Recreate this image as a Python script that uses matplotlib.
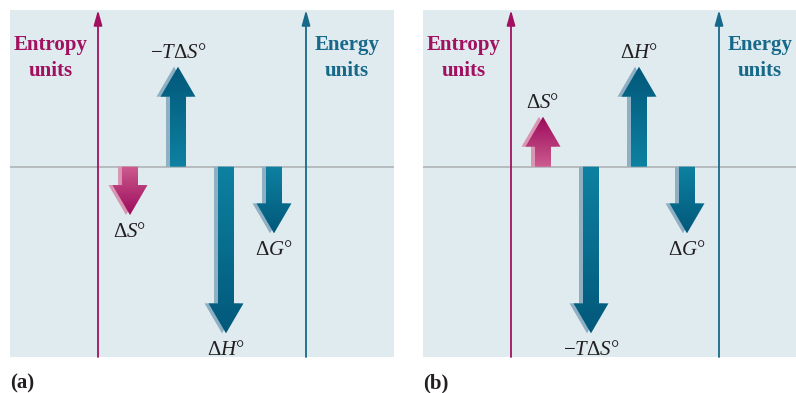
import numpy as np
import matplotlib
matplotlib.use("Agg")
import matplotlib.pyplot as plt
from matplotlib.patches import Polygon
from matplotlib.colors import LinearSegmentedColormap

plt.rcParams['font.family'] = ['Liberation Serif', 'DejaVu Serif']
plt.rcParams['mathtext.fontset'] = 'custom'
plt.rcParams['mathtext.rm'] = 'Liberation Serif'
plt.rcParams['mathtext.it'] = 'Liberation Serif:italic'

# quantities drawn in each panel (arbitrary units, 0 = baseline)
panel_names = ['(a)', '(b)']
arrow_labels = ['$\\Delta S$°', '−$T\\Delta S$°', '$\\Delta H$°', '$\\Delta G$°']
arrow_kind = ['entropy', 'energy', 'energy', 'energy']
values_a = [-1.45, 3.0, -5.0, -2.0]
values_b = [1.5, -5.0, 3.0, -2.0]

# colours
BG = '#e0ebf0'
MAGENTA = '#a1115f'
TEAL = '#17698a'
TEXT = '#231f20'
grad = {
    'entropy': LinearSegmentedColormap.from_list('ent', ['#cc5c8f', '#9b0a5b']),
    'energy': LinearSegmentedColormap.from_list('eng', ['#0e81a1', '#02587a']),
}
shadow = {'entropy': '#d896b4', 'energy': '#8eb0c2'}

W, H = 796, 393
PX = 33.33          # pixels per unit
PANEL_W, PANEL_H = 384, 347
Y_TOP = 156.7 / PX
Y_BOT = -190.3 / PX
slots = [120, 168, 216, 264]     # arrow centres, px from panel left
SHAFT, HEAD, HEAD_LEN = 8, 17.5, 30 / PX


def arrow_poly(cx, v):
    d = np.sign(v)
    yb = v - d * HEAD_LEN
    return np.array([[cx - SHAFT, 0], [cx - SHAFT, yb], [cx - HEAD, yb], [cx, v],
                     [cx + HEAD, yb], [cx + SHAFT, yb], [cx + SHAFT, 0]])


def draw_arrow(ax, cx, v, kind, label):
    pts = arrow_poly(cx, v)
    sh = pts.copy()
    sh[:, 0] -= 4
    ax.add_patch(Polygon(sh, closed=True, facecolor=shadow[kind],
                         edgecolor='none', zorder=3))
    clip = Polygon(pts, closed=True, facecolor='none', edgecolor='none',
                   transform=ax.transData)
    ax.add_patch(clip)
    t = np.linspace(0, 1, 256).reshape(-1, 1)
    im = ax.imshow(t, cmap=grad[kind], origin='lower', aspect='auto',
                   extent=(cx - HEAD - 1, cx + HEAD + 1, 0, v), zorder=4,
                   interpolation='bilinear')
    im.set_clip_path(clip)
    if v > 0:
        ax.text(cx, v + 4 / PX, label, ha='center', va='bottom', fontsize=15,
                color=TEXT, zorder=5)
    else:
        ax.text(cx, v - 8 / PX, label, ha='center', va='top', fontsize=15,
                color=TEXT, zorder=5)


fig = plt.figure(figsize=(W / 100, H / 100), dpi=100)
fig.patch.set_facecolor('white')

for name, left, vals in zip(panel_names, [10, 423], [values_a, values_b]):
    ax = fig.add_axes([left / W, (H - 357) / H, PANEL_W / W, PANEL_H / H])
    ax.set_facecolor(BG)
    for s in ax.spines.values():
        s.set_visible(False)
    ax.set_xticks([])
    ax.set_yticks([])

    ax.axhline(0, color='#b3b7ba', lw=1.3, zorder=1)

    # unit axes
    ax.annotate('', xy=(88, Y_TOP), xytext=(88, Y_BOT),
                arrowprops=dict(arrowstyle='-|>,head_length=0.9,head_width=0.25',
                                color=MAGENTA, lw=1.3, shrinkA=0, shrinkB=0),
                zorder=2)
    ax.annotate('', xy=(296, Y_TOP), xytext=(296, Y_BOT),
                arrowprops=dict(arrowstyle='-|>,head_length=0.9,head_width=0.25',
                                color=TEAL, lw=1.3, shrinkA=0, shrinkB=0),
                zorder=2)
    ax.text(41, (166.7 - 58) / PX, 'Entropy\nunits', ha='center', va='center',
            fontsize=15, fontweight='bold', color=MAGENTA, linespacing=1.4)
    ax.text(337, (166.7 - 58) / PX, 'Energy\nunits', ha='center', va='center',
            fontsize=15, fontweight='bold', color=TEAL, linespacing=1.4)

    for cx, v, kind, lab in zip(slots, vals, arrow_kind, arrow_labels):
        draw_arrow(ax, cx, v, kind, lab)

    ax.set_xlim(0, PANEL_W)
    ax.set_ylim(Y_BOT, Y_TOP)

    fig.text(left / W, 1 - 383 / H, name, ha='left', va='center',
             fontsize=15, fontweight='bold', color=TEXT)

fig.savefig('out.png', dpi=100)
